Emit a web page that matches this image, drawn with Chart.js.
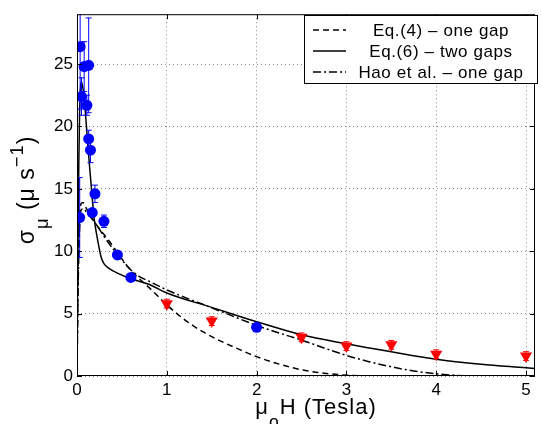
<!DOCTYPE html>
<html>
<head>
<meta charset="utf-8">
<script src="https://cdn.jsdelivr.net/npm/chart.js@4.4.1/dist/chart.umd.min.js"></script>
<style>
  html, body { margin: 0; padding: 0; background: #fff; }
</style>
</head>
<body>
<canvas id="chart" width="542" height="424"></canvas>
<script>
// ticks
const xTicks = [0, 1, 2, 3, 4, 5];
const yTicks = [0, 5, 10, 15, 20, 25];

// blue data points (low field) with error bars
const blueX = [0.03, 0.035, 0.05, 0.08, 0.11, 0.13, 0.13, 0.15, 0.17, 0.2, 0.3, 0.45, 0.6, 2.0];
const blueY = [12.7, 26.4, 22.4, 24.8, 21.7, 24.9, 19.0, 18.1, 13.1, 14.6, 12.4, 9.7, 7.9, 3.9];
const blueErr = [3.2, 5.0, 1.5, 2.0, 0.8, 3.8, 0.7, 1.0, 0.3, 0.7, 0.5, 0.3, 0.2, 0.2];

// red data points (high field)
const redX = [1.0, 1.5, 2.5, 3.0, 3.5, 4.0, 5.0];
const redY = [5.8, 4.4, 3.1, 2.4, 2.5, 1.75, 1.6];
const redErr = [0.35, 0.35, 0.35, 0.35, 0.35, 0.35, 0.35];

// Eq.(4) - one gap (dashed)
const eq4X = [0, 0.01, 0.025, 0.045, 0.065, 0.1, 0.17, 0.25, 0.36, 0.45, 0.55, 0.65, 0.83, 1.0, 1.2, 1.4, 1.6, 1.8, 2.0, 2.25, 2.5, 2.75, 3.0, 3.3, 4.4];
const eq4Y = [0, 7, 12, 13.8, 13.9, 13.5, 12.6, 11.8, 10.8, 9.9, 8.9, 8.1, 6.9, 5.7, 4.5, 3.55, 2.8, 2.15, 1.55, 0.95, 0.5, 0.22, 0.07, 0, 0];

// Eq.(6) - two gaps (solid)
const eq6X = [0, 0.01, 0.02, 0.03, 0.045, 0.06, 0.08, 0.1, 0.12, 0.14, 0.16, 0.19, 0.23, 0.27, 0.3, 0.36, 0.45, 0.6, 0.8, 1.0, 1.5, 2.0, 2.5, 3.0, 3.5, 4.0, 4.5, 5.0, 5.1];
const eq6Y = [0, 10, 17, 21.5, 23.6, 23.3, 22.3, 20.5, 18.6, 16.8, 15.1, 12.7, 10.9, 9.5, 9.0, 8.6, 8.25, 7.8, 7.35, 6.65, 5.5, 4.35, 3.3, 2.58, 1.94, 1.35, 0.95, 0.66, 0.6];

// Hao et al. - one gap (dash-dot)
const haoX = [0, 0.01, 0.025, 0.045, 0.07, 0.12, 0.2, 0.3, 0.4, 0.5, 0.6, 0.7, 0.8, 1.0, 1.2, 1.4, 1.7, 2.0, 2.25, 2.5, 2.75, 3.0, 3.25, 3.5, 3.75, 4.0, 4.3, 4.4];
const haoY = [0, 6, 11, 13.3, 13.4, 13.0, 12.3, 11.2, 10.2, 9.3, 8.5, 7.95, 7.6, 6.9, 6.3, 5.75, 4.9, 4.05, 3.45, 2.88, 2.25, 1.65, 1.15, 0.74, 0.4, 0.18, 0.02, 0];

const legendItems = [
  { label: 'Eq.(4) \u2013 one gap', dash: [6, 4] },
  { label: 'Eq.(6) \u2013 two gaps', dash: [] },
  { label: 'Hao et al. \u2013 one gap', dash: [8, 3, 2, 3] }
];

const pts = (xs, ys) => xs.map((x, i) => ({ x: x, y: ys[i] }));
const FONT = '"Liberation Sans", Arial, sans-serif';

// draws text runs with sub/superscripts, centred on (cx, cy baseline)
function drawRich(ctx, runs, cx, cy, size, rotate) {
  ctx.save();
  ctx.translate(cx, cy);
  if (rotate) ctx.rotate(-Math.PI / 2);
  ctx.letterSpacing = '1px';
  let total = 0;
  runs.forEach(r => {
    const s = r.sub || r.sup ? size * 0.8 : size;
    ctx.font = s + 'px ' + FONT;
    r.w = ctx.measureText(r.t).width;
    r.s = s;
    total += r.w;
  });
  let x = -total / 2;
  ctx.fillStyle = '#000';
  ctx.textBaseline = 'alphabetic';
  ctx.textAlign = 'left';
  runs.forEach(r => {
    ctx.font = r.s + 'px ' + FONT;
    let dy = 0;
    if (r.sub) dy = size * 0.62;
    if (r.sup) dy = -size * 0.5;
    ctx.fillText(r.t, x, dy);
    x += r.w;
  });
  ctx.restore();
}

function drawErrors(ctx, chart, xs, ys, errs, color) {
  const sx = chart.scales.x, sy = chart.scales.y;
  const a = chart.chartArea;
  ctx.save();
  ctx.beginPath();
  ctx.rect(a.left, a.top, a.right - a.left, a.bottom - a.top);
  ctx.clip();
  ctx.strokeStyle = color;
  ctx.lineWidth = 1;
  xs.forEach((x, i) => {
    const px = sx.getPixelForValue(x);
    const top = sy.getPixelForValue(ys[i] + errs[i]);
    const bot = sy.getPixelForValue(ys[i] - errs[i]);
    ctx.beginPath();
    ctx.moveTo(px, top); ctx.lineTo(px, bot);
    ctx.moveTo(px - 3, top); ctx.lineTo(px + 3, top);
    ctx.moveTo(px - 3, bot); ctx.lineTo(px + 3, bot);
    ctx.stroke();
  });
  ctx.restore();
}

const extras = {
  id: 'extras',
  beforeDatasetDraw(chart, args) {
    const ctx = chart.ctx;
    if (args.index === 0) drawErrors(ctx, chart, blueX, blueY, blueErr, '#0000ff');
    if (args.index === 1) drawErrors(ctx, chart, redX, redY, redErr, '#ff0000');
  },
  afterDraw(chart) {
    const ctx = chart.ctx;
    const a = chart.chartArea;
    const sx = chart.scales.x, sy = chart.scales.y;
    // box + inward ticks
    ctx.save();
    ctx.strokeStyle = '#000';
    ctx.lineWidth = 1;
    ctx.strokeRect(a.left + 0.5, a.top + 0.5, a.right - a.left - 1, a.bottom - a.top - 1);
    ctx.beginPath();
    xTicks.forEach(v => {
      const p = Math.round(sx.getPixelForValue(v)) + 0.5;
      ctx.moveTo(p, a.bottom); ctx.lineTo(p, a.bottom - 5);
      ctx.moveTo(p, a.top); ctx.lineTo(p, a.top + 5);
    });
    yTicks.forEach(v => {
      const p = Math.round(sy.getPixelForValue(v)) + 0.5;
      ctx.moveTo(a.left, p); ctx.lineTo(a.left + 5, p);
      ctx.moveTo(a.right, p); ctx.lineTo(a.right - 5, p);
    });
    ctx.stroke();

    // legend
    const lx = 304, ly = 15, lw = 233, lh = 68;
    ctx.fillStyle = '#fff';
    ctx.fillRect(lx, ly, lw, lh);
    ctx.strokeRect(lx + 0.5, ly + 0.5, lw, lh);
    ctx.font = '17px ' + FONT;
    ctx.letterSpacing = '0.6px';
    ctx.textAlign = 'center';
    ctx.textBaseline = 'middle';
    ctx.fillStyle = '#000';
    legendItems.forEach((it, i) => {
      const y = ly + 15 + i * 21;
      ctx.beginPath();
      ctx.setLineDash(it.dash);
      ctx.lineWidth = 1.5;
      ctx.moveTo(313, y); ctx.lineTo(346, y);
      ctx.stroke();
      ctx.setLineDash([]);
      ctx.fillText(it.label, 441, y + 1);
    });
    ctx.restore();

    // axis titles
    drawRich(ctx, [{ t: '\u03bc' }, { t: 'o', sub: true }, { t: 'H (Tesla)' }], 316, 414, 22, false);
    drawRich(ctx, [{ t: '\u03c3' }, { t: '\u03bc', sub: true }, { t: ' (\u03bc s' }, { t: '\u22121', sup: true }, { t: ')' }], 34, 190, 23, true);
  }
};

const lineBase = { type: 'line', showLine: true, pointRadius: 0, borderColor: '#000', borderWidth: 1.5, cubicInterpolationMode: 'monotone', fill: false };

new Chart(document.getElementById('chart'), {
  type: 'scatter',
  data: {
    datasets: [
      { label: 'data', data: pts(blueX, blueY), pointStyle: 'circle', pointRadius: 5.5, backgroundColor: '#0000ff', borderColor: '#0000ff', borderWidth: 0 },
      { label: 'data2', data: pts(redX, redY), pointStyle: 'triangle', rotation: 180, pointRadius: 7, backgroundColor: '#ff0000', borderColor: '#ff0000', borderWidth: 0 },
      Object.assign({ label: legendItems[0].label, data: pts(eq4X, eq4Y), borderDash: legendItems[0].dash }, lineBase),
      Object.assign({ label: legendItems[1].label, data: pts(eq6X, eq6Y) }, lineBase),
      Object.assign({ label: legendItems[2].label, data: pts(haoX, haoY), borderDash: legendItems[2].dash }, lineBase)
    ]
  },
  options: {
    responsive: false,
    animation: false,
    devicePixelRatio: 1,
    layout: { padding: { top: 10, right: 1, left: 0, bottom: 0 } },
    plugins: { legend: { display: false }, tooltip: { enabled: false } },
    scales: {
      x: {
        type: 'linear', min: 0, max: 5.1,
        afterBuildTicks: s => { s.ticks = xTicks.map(v => ({ value: v })); },
        afterFit: s => { s.height = 48; },
        grid: { color: '#8a8a8a', lineWidth: 1, drawTicks: false },
        border: { display: false, dash: [1, 3] },
        ticks: { color: '#000', font: { size: 17, family: FONT }, padding: 4, maxRotation: 0 }
      },
      y: {
        type: 'linear', min: 0, max: 29,
        afterBuildTicks: s => { s.ticks = yTicks.map(v => ({ value: v })); },
        afterFit: s => { s.width = 77; },
        grid: { color: '#8a8a8a', lineWidth: 1, drawTicks: false },
        border: { display: false, dash: [1, 3] },
        ticks: { color: '#000', font: { size: 17, family: FONT }, padding: 4 }
      }
    }
  },
  plugins: [extras]
});
</script>
</body>
</html>
